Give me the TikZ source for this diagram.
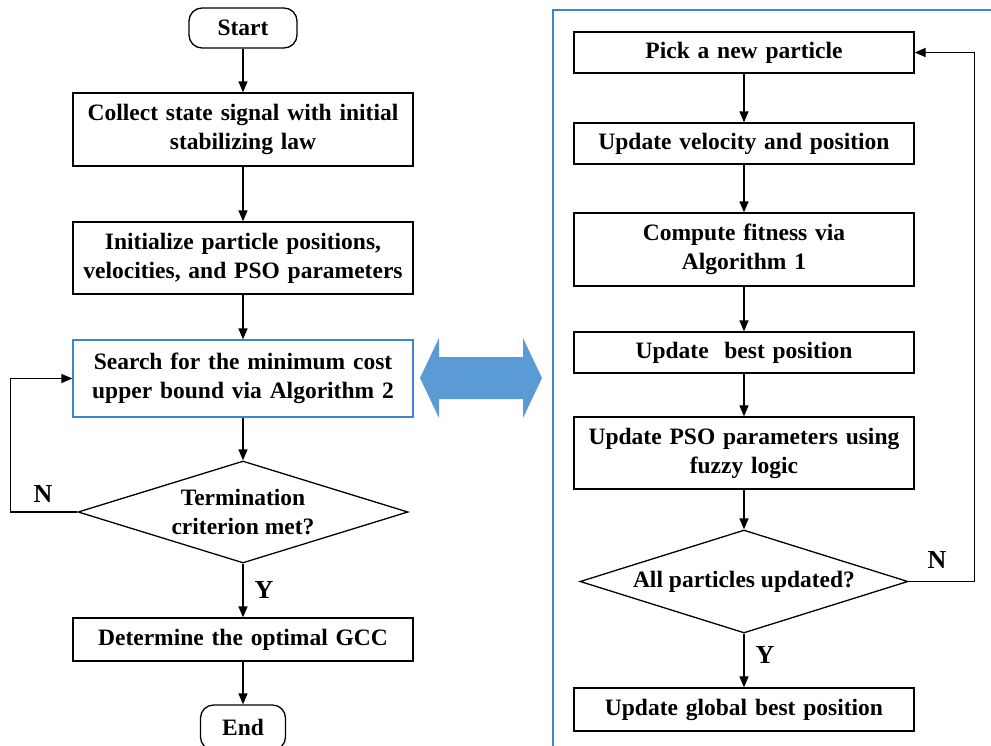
\documentclass[tikz,border=0pt]{standalone}
\usepackage{fontspec}
\setmainfont{Liberation Serif}
\usetikzlibrary{shapes.geometric,arrows.meta}
\definecolor{frameblue}{HTML}{3A87CC}
\definecolor{arrowblue}{HTML}{5B9BD5}
\tikzset{
  every node/.style={font=\fontsize{23.5}{29}\selectfont\bfseries},
  procbox/.style={draw, line width=1.3pt, minimum width=340pt, text width=330pt, align=center, inner sep=0pt},
  termbox/.style={draw, line width=1.3pt, rounded corners=13pt, inner sep=0pt},
  decbox/.style={draw, diamond, line width=1.3pt, shape aspect=3.2, inner sep=0pt, align=center},
  flow/.style={line width=1.3pt, -{Triangle[length=11pt,width=9pt]}},
  lbl/.style={font=\fontsize{26}{30}\selectfont\bfseries}
}
\begin{document}
\begin{tikzpicture}[x=1pt,y=-1pt]
\useasboundingbox (0,0) rectangle (991,745);
\clip (0,0) rectangle (991,745);
% left column
\node[termbox, minimum width=108pt, minimum height=40pt] (start) at (243,28) {Start};
\node[procbox, minimum height=73pt] (b1) at (243,129.5) {Collect state signal with initial\\stabilizing law};
\node[procbox, minimum height=72pt] (b2) at (243,258) {Initialize particle positions,\\velocities, and PSO parameters};
\node[procbox, draw=frameblue, minimum height=77pt] (b3) at (243,378.5) {Search for the minimum cost\\upper bound via Algorithm 2};
\node[decbox, minimum width=330pt, minimum height=102pt] (d1) at (243,512) {Termination\\criterion met?};
\node[procbox, minimum height=43pt] (b4) at (243,639.5) {Determine the optimal GCC};
\node[termbox, minimum width=85pt, minimum height=45pt] (end) at (243,727.5) {End};
\node[lbl] (ly1) at (264,590) {Y};
\node[lbl] (ln1) at (43,494) {N};
\draw[flow] (start) -- (b1);
\draw[flow] (b1) -- (b2);
\draw[flow] (b2) -- (b3);
\draw[flow] (b3) -- (d1);
\draw[flow] (d1) -- (b4);
\draw[flow] (b4) -- (end);
\draw[flow] (d1.west) -- ++(-67,0) |- (b3.west);
% double arrow
\fill[arrowblue] (420,378) -- (439,338) -- (439,357) -- (523,357) -- (523,338) -- (542,378) -- (523,418) -- (523,399) -- (439,399) -- (439,418) -- cycle;
% right frame
\draw[frameblue, line width=1.5pt] (553,760) -- (553,10) -- (1000,10);
% right column
\node[procbox, minimum height=41pt] (p1) at (744,52.5) {Pick a new particle};
\node[procbox, minimum height=41pt] (p2) at (744,143.5) {Update velocity and position};
\node[procbox, minimum height=73pt] (p3) at (744,249.5) {Compute fitness via\\Algorithm 1};
\node[procbox, minimum height=41pt] (p4) at (744,352.5) {Update~ best position};
\node[procbox, minimum height=72pt] (p5) at (744,453) {Update PSO parameters using\\fuzzy logic};
\node[decbox, minimum width=328pt, minimum height=103pt] (d2) at (744,581.5) {All particles updated?};
\node[procbox, minimum height=43pt] (p6) at (744,709.5) {Update global best position};
\node[lbl] (ly2) at (765,655) {Y};
\node[lbl] (ln2) at (937,560) {N};
\draw[flow] (p1) -- (p2);
\draw[flow] (p2) -- (p3);
\draw[flow] (p3) -- (p4);
\draw[flow] (p4) -- (p5);
\draw[flow] (p5) -- (d2);
\draw[flow] (d2) -- (p6);
\draw[flow] (d2.east) -- ++(66,0) |- (p1.east);
\end{tikzpicture}
\end{document}
